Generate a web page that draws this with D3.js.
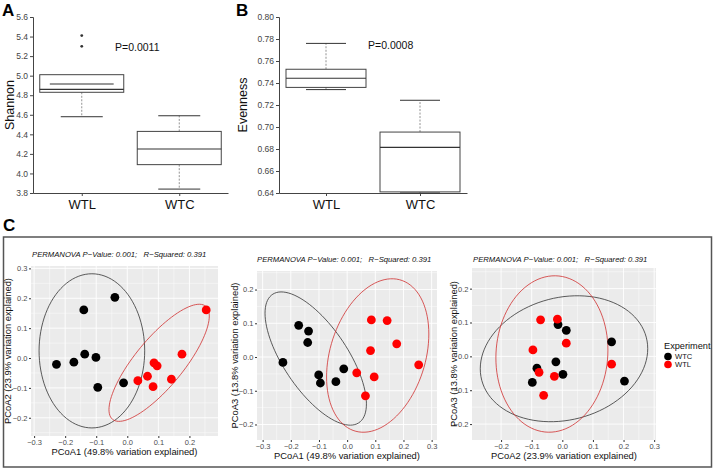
<!DOCTYPE html>
<html>
<head>
<meta charset="utf-8">
<script src="https://cdn.jsdelivr.net/npm/d3@7"></script>
<style>
  body { margin: 0; background: #fff; }
  svg { display: block; font-family: Arial, "Liberation Sans", sans-serif; }
</style>
</head>
<body>
<svg id="chart" width="713" height="469"></svg>
<script>
// ---- box plot data (A: Shannon, B: Evenness) ----
const groups = ["WTL", "WTC"];
const shannonLow = [4.58, 3.84];
const shannonQ1 = [4.83, 4.09];
const shannonMed = [4.86, 4.25];
const shannonQ3 = [5.01, 4.43];
const shannonHigh = [5.01, 4.59];
const shannonExtra = [4.915, null];
const shannonOut = [[5.41, 5.30], []];

const evenLow = [0.734, 0.640];
const evenQ1 = [0.736, 0.641];
const evenMed = [0.7443, 0.6814];
const evenQ3 = [0.7525, 0.6954];
const evenHigh = [0.776, 0.7243];

const shannonTicks = [3.8, 4.0, 4.2, 4.4, 4.6, 4.8, 5.0, 5.2, 5.4, 5.6];
const evenTicks = [0.64, 0.66, 0.68, 0.70, 0.72, 0.74, 0.76, 0.78, 0.80];

// ---- PCoA data (C) ----
const experiment = ["WTC","WTC","WTC","WTC","WTC","WTC","WTC","WTC",
                    "WTL","WTL","WTL","WTL","WTL","WTL","WTL","WTL"];
const pcoa1 = [-0.172, -0.137, -0.140, -0.228, -0.012, -0.101, -0.040, -0.095,
                0.086,  0.142,  0.176,  0.083,  0.254,  0.034,  0.096,  0.065];
const pcoa2 = [-0.014,  0.013,  0.161, -0.021, -0.083,  0.002,  0.203, -0.098,
               -0.016, -0.071,  0.013, -0.096,  0.161, -0.076, -0.026, -0.061];
const pcoa3 = [ 0.094,  0.077,  0.043, -0.016, -0.035, -0.053, -0.073, -0.077,
                0.110,  0.108,  0.039,  0.019, -0.023, -0.047, -0.059, -0.115];

// ellipse: [centre x, centre y, half width, half height, correlation]
const ell12 = { WTC: [-0.114, 0.024, 0.170, 0.258, 0.0], WTL: [0.1025, -0.016, 0.1615, 0.196, 0.8] };
const ell13 = { WTC: [-0.1115, -0.0045, 0.180, 0.1975, -0.68], WTL: [0.1085, 0.0045, 0.1815, 0.2275, 0.28] };
const ell23 = { WTC: [0.0055, -0.007, 0.2735, 0.186, 0.16], WTL: [-0.034, 0.007, 0.183, 0.231, 0.05] };

const colors = { WTC: "black", WTL: "red" };
const statText = "PERMANOVA P\u2212Value: 0.001;\u00a0\u00a0\u00a0R\u2212Squared: 0.391";

const svg = d3.select("#chart");

// ---------- box plots ----------
function boxPanel(o) {
  const g = svg.append("g");
  const y = d3.scaleLinear().domain(o.domain).range([193, 17]);
  const x = d3.scalePoint().domain(groups).range([o.left, o.right]).padding(0.5);
  const bw = o.boxW;

  g.append("g")
    .attr("transform", `translate(${o.left},0)`)
    .call(d3.axisLeft(y).tickValues(o.ticks).tickFormat(d3.format(o.fmt)).tickSize(3).tickPadding(2))
    .call(a => a.select(".domain").attr("stroke", "#444"))
    .call(a => a.selectAll(".tick line").attr("stroke", "#444"))
    .call(a => a.selectAll("text").attr("font-size", 8.5).attr("fill", "#444"));

  g.append("g")
    .attr("transform", `translate(0,193)`)
    .call(d3.axisBottom(x).tickSize(3).tickSizeOuter(0).tickPadding(4))
    .call(a => a.select(".domain").attr("stroke", "#444"))
    .call(a => a.selectAll(".tick line").attr("stroke", "#444"))
    .call(a => a.selectAll("text").attr("font-size", 13).attr("fill", "#111"));

  groups.forEach((grp, i) => {
    const cx = x(grp);
    const capW = bw * 0.5;
    // whiskers
    g.append("line").attr("x1", cx).attr("x2", cx)
      .attr("y1", y(o.q1[i])).attr("y2", y(o.low[i]))
      .attr("stroke", "#777").attr("stroke-dasharray", "2,1.5").attr("stroke-width", 0.8);
    g.append("line").attr("x1", cx - capW / 2).attr("x2", cx + capW / 2)
      .attr("y1", y(o.low[i])).attr("y2", y(o.low[i]))
      .attr("stroke", "#333").attr("stroke-width", 1);
    if (o.high[i] > o.q3[i]) {
      g.append("line").attr("x1", cx).attr("x2", cx)
        .attr("y1", y(o.q3[i])).attr("y2", y(o.high[i]))
        .attr("stroke", "#777").attr("stroke-dasharray", "2,1.5").attr("stroke-width", 0.8);
      g.append("line").attr("x1", cx - capW / 2).attr("x2", cx + capW / 2)
        .attr("y1", y(o.high[i])).attr("y2", y(o.high[i]))
        .attr("stroke", "#333").attr("stroke-width", 1);
    }
    g.append("rect")
      .attr("x", cx - bw / 2).attr("width", bw)
      .attr("y", y(o.q3[i])).attr("height", y(o.q1[i]) - y(o.q3[i]))
      .attr("fill", "white").attr("stroke", "#444").attr("stroke-width", 1);
    g.append("line").attr("x1", cx - bw / 2).attr("x2", cx + bw / 2)
      .attr("y1", y(o.med[i])).attr("y2", y(o.med[i]))
      .attr("stroke", "#333").attr("stroke-width", 1.2);
    if (o.extra && o.extra[i] != null) {
      g.append("line").attr("x1", cx - bw * 0.38).attr("x2", cx + bw * 0.38)
        .attr("y1", y(o.extra[i])).attr("y2", y(o.extra[i]))
        .attr("stroke", "#333").attr("stroke-width", 1.1);
    }
    if (o.out) {
      o.out[i].forEach(v => {
        g.append("circle").attr("cx", cx).attr("cy", y(v)).attr("r", 1.4).attr("fill", "#333");
      });
    }
  });

  g.append("text").attr("transform", `translate(${o.titleX},${(17 + 193) / 2}) rotate(-90)`)
    .attr("text-anchor", "middle").attr("font-size", 12.5).attr("fill", "#111").text(o.title);
  g.append("text").attr("x", o.pX).attr("y", o.pY)
    .attr("font-size", 10.5).attr("fill", "#111").text(o.pText);
  svg.append("text").attr("x", o.letterX).attr("y", 16)
    .attr("font-size", 17).attr("font-weight", "bold").text(o.letter);
}

boxPanel({
  domain: [3.8, 5.6], ticks: shannonTicks, fmt: ".1f", left: 33, right: 228, boxW: 84,
  low: shannonLow, q1: shannonQ1, med: shannonMed, q3: shannonQ3, high: shannonHigh,
  extra: shannonExtra, out: shannonOut,
  title: "Shannon", titleX: 14, pText: "P=0.0011", pX: 115, pY: 51, letter: "A", letterX: 2
});
boxPanel({
  domain: [0.64, 0.80], ticks: evenTicks, fmt: ".2f", left: 279, right: 467, boxW: 80,
  low: evenLow, q1: evenQ1, med: evenMed, q3: evenQ3, high: evenHigh,
  title: "Evenness", titleX: 247, pText: "P=0.0008", pX: 368, pY: 49, letter: "B", letterX: 236
});

// ---------- PCoA panels ----------
svg.append("text").attr("x", 3).attr("y", 231)
  .attr("font-size", 17).attr("font-weight", "bold").text("C");
svg.append("rect").attr("x", 3.5).attr("y", 237).attr("width", 708).attr("height", 230)
  .attr("fill", "none").attr("stroke", "#555").attr("stroke-width", 1.5);

function ellipsePoints(e, x, y) {
  const [cx, cy, hx, hy, rho] = e;
  const s = Math.sqrt(1 - rho * rho);
  return d3.range(0, 101).map(k => {
    const t = (k / 100) * 2 * Math.PI;
    return [x(cx + hx * Math.cos(t)), y(cy + hy * (rho * Math.cos(t) + s * Math.sin(t)))];
  });
}

function pcoaPanel(o) {
  const g = svg.append("g");
  const x = d3.scaleLinear().domain(o.xDomain).range([o.x0, o.x1]);
  const y = d3.scaleLinear().domain(o.yDomain).range([o.y1, o.y0]);

  g.append("rect").attr("x", o.x0).attr("y", o.y0)
    .attr("width", o.x1 - o.x0).attr("height", o.y1 - o.y0).attr("fill", "#EBEBEB");

  const xMaj = x.ticks(6), yMaj = y.ticks(5);
  const xMin = x.ticks(12).filter(v => !xMaj.some(m => Math.abs(m - v) < 1e-9));
  const yMin = y.ticks(10).filter(v => !yMaj.some(m => Math.abs(m - v) < 1e-9));
  g.selectAll(null).data(xMin).join("line")
    .attr("x1", d => x(d)).attr("x2", d => x(d)).attr("y1", o.y0).attr("y2", o.y1)
    .attr("stroke", "white").attr("stroke-width", 0.45);
  g.selectAll(null).data(yMin).join("line")
    .attr("y1", d => y(d)).attr("y2", d => y(d)).attr("x1", o.x0).attr("x2", o.x1)
    .attr("stroke", "white").attr("stroke-width", 0.45);
  g.selectAll(null).data(xMaj).join("line")
    .attr("x1", d => x(d)).attr("x2", d => x(d)).attr("y1", o.y0).attr("y2", o.y1)
    .attr("stroke", "white").attr("stroke-width", 0.9);
  g.selectAll(null).data(yMaj).join("line")
    .attr("y1", d => y(d)).attr("y2", d => y(d)).attr("x1", o.x0).attr("x2", o.x1)
    .attr("stroke", "white").attr("stroke-width", 0.9);

  g.append("g").attr("transform", `translate(0,${o.y1})`)
    .call(d3.axisBottom(x).tickValues(xMaj).tickFormat(d3.format(".1f")).tickSize(2).tickPadding(1.5))
    .call(a => a.select(".domain").remove())
    .call(a => a.selectAll(".tick line").attr("stroke", "#333"))
    .call(a => a.selectAll("text").attr("font-size", 7.5).attr("fill", "#4D4D4D"));
  g.append("g").attr("transform", `translate(${o.x0},0)`)
    .call(d3.axisLeft(y).tickValues(yMaj).tickFormat(d3.format(".1f")).tickSize(2).tickPadding(1.5))
    .call(a => a.select(".domain").remove())
    .call(a => a.selectAll(".tick line").attr("stroke", "#333"))
    .call(a => a.selectAll("text").attr("font-size", 7.5).attr("fill", "#4D4D4D"));

  const line = d3.line();
  ["WTC", "WTL"].forEach(k => {
    g.append("path").attr("d", line(ellipsePoints(o.ell[k], x, y)) + "Z")
      .attr("fill", "none").attr("stroke", k === "WTC" ? "#333" : "#D03030").attr("stroke-width", 0.8);
  });

  const idx = d3.range(experiment.length);
  g.selectAll(null).data(idx).join("circle")
    .attr("cx", i => x(o.xs[i])).attr("cy", i => y(o.ys[i])).attr("r", 4.4)
    .attr("fill", i => colors[experiment[i]]);

  g.append("text").attr("x", (o.x0 + o.x1) / 2).attr("y", o.y1 + 19)
    .attr("text-anchor", "middle").attr("font-size", 9.4).attr("fill", "#111").text(o.xTitle);
  g.append("text").attr("transform", `translate(${o.yTitleX},${(o.y0 + o.y1) / 2}) rotate(-90)`)
    .attr("text-anchor", "middle").attr("font-size", 9.4).attr("fill", "#111").text(o.yTitle);
  g.append("text").attr("x", o.statX).attr("y", o.statY)
    .attr("font-size", 7.7).attr("font-style", "italic").attr("fill", "#111").text(statText);
}

pcoaPanel({
  xs: pcoa1, ys: pcoa2, ell: ell12,
  xDomain: [-0.31, 0.292], yDomain: [-0.261, 0.308],
  x0: 31, x1: 218, y0: 266, y1: 436,
  xTitle: "PCoA1 (49.8% variation explained)", yTitle: "PCoA2 (23.9% variation explained)",
  yTitleX: 11, statX: 32, statY: 257
});
pcoaPanel({
  xs: pcoa1, ys: pcoa3, ell: ell13,
  xDomain: [-0.32, 0.319], yDomain: [-0.246, 0.255],
  x0: 257, x1: 437, y0: 271, y1: 440,
  xTitle: "PCoA1 (49.8% variation explained)", yTitle: "PCoA3 (13.8% variation explained)",
  yTitleX: 238, statX: 257, statY: 262
});
pcoaPanel({
  xs: pcoa2, ys: pcoa3, ell: ell23,
  xDomain: [-0.295, 0.306], yDomain: [-0.247, 0.261],
  x0: 472, x1: 656, y0: 268, y1: 440,
  xTitle: "PCoA2 (23.9% variation explained)", yTitle: "PCoA3 (13.8% variation explained)",
  yTitleX: 457, statX: 473, statY: 262
});

// legend
const leg = svg.append("g");
leg.append("text").attr("x", 664).attr("y", 349).attr("font-size", 9.2).attr("fill", "#111").text("Experiment");
["WTC", "WTL"].forEach((k, i) => {
  leg.append("circle").attr("cx", 668).attr("cy", 356.5 + i * 8).attr("r", 3.8).attr("fill", colors[k]);
  leg.append("text").attr("x", 675).attr("y", 359.3 + i * 8).attr("font-size", 7.6).attr("fill", "#111").text(k);
});
</script>
</body>
</html>
